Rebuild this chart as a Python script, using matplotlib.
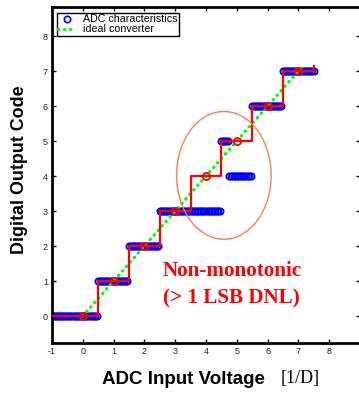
import matplotlib
matplotlib.use("Agg")
import matplotlib.pyplot as plt
import numpy as np
from matplotlib.patches import Ellipse

plt.rcParams['axes.unicode_minus'] = False

# measured ADC output codes: (start voltage, end voltage, code)
seg_start = [-1.0, 0.5, 1.5, 2.5, 4.5, 4.75, 5.5, 6.5]
seg_end = [0.45, 1.45, 2.45, 4.45, 4.7, 5.45, 6.45, 7.5]
seg_code = [0, 1, 2, 3, 5, 4, 6, 7]
sample_step = 0.05

# staircase (red) transitions and levels
step_x = [-1.0, 0.5, 1.5, 2.5, 3.5, 4.5, 5.5, 6.5, 7.5]
step_y = [0, 1, 2, 3, 4, 5, 6, 7, 7.15]

# ideal converter line
ideal_x = [0.0, 7.1]
ideal_y = [0.0, 7.1]

# code centres
centre_x = [0, 1, 2, 3, 4, 5, 6, 7]
centre_y = [0, 1, 2, 3, 4, 5, 6, 7]

xticks = [-1, 0, 1, 2, 3, 4, 5, 6, 7, 8]
yticks = [0, 1, 2, 3, 4, 5, 6, 7, 8]

adc_x, adc_y = [], []
for s, e, c in zip(seg_start, seg_end, seg_code):
    xs = np.arange(s, e + 1e-9, sample_step)
    adc_x.extend(xs)
    adc_y.extend([c] * len(xs))

W, H = 359, 395
fig = plt.figure(figsize=(W / 100, H / 100), dpi=100)
ax = fig.add_axes([52 / W, 1 - 343 / H, (360 - 52) / W, (343 - 7) / H])

ax.plot(adc_x, adc_y, 'o', mfc='none', mec='blue', ms=4.6, mew=1.2,
        label='ADC characteristics', zorder=2)
ax.plot(ideal_x, ideal_y, color='#00ff00', lw=2.4, ls=(0, (0.1, 1.7)),
        dash_capstyle='round', label='ideal converter', zorder=3)

# red staircase
sx, sy = [], []
for i in range(len(step_x) - 1):
    sx += [step_x[i], step_x[i + 1]]
    sy += [step_y[i], step_y[i]]
sx.append(step_x[-1])
sy.append(step_y[-1])
ax.plot(sx, sy, '-', color='red', lw=1.6, zorder=4)
ax.plot(centre_x, centre_y, 'o', mfc='none', mec='red', ms=5.2, mew=1.3, zorder=5)

ax.add_patch(Ellipse((4.58, 4.02), 3.07, 3.65, fill=False, ec='#ff7f50', lw=1.0, zorder=6))

ax.text(4.84, 1.29, 'Non-monotonic', color='red', fontsize=15.2,
        family='Liberation Serif', fontweight='bold', ha='center', va='center')
ax.text(4.84, 0.49, '(> 1 LSB DNL)', color='red', fontsize=15.2,
        family='Liberation Serif', fontweight='bold', ha='center', va='center')

ax.set_xlim(-1, 9)
ax.set_ylim(-0.77, 8.83)
ax.set_xticks(xticks)
ax.set_yticks(yticks)
ax.tick_params(direction='in', length=3, width=1, top=True, right=True,
               labelsize=6.5, pad=3, colors='black', labelcolor='#222222')
for lab in ax.get_xticklabels() + ax.get_yticklabels():
    lab.set_family('Liberation Sans')
for sp in ax.spines.values():
    sp.set_linewidth(2)

leg = ax.legend(loc='upper left', bbox_to_anchor=(57 / W, 1 - 13 / H),
                bbox_transform=fig.transFigure, borderaxespad=0, numpoints=1,
                fancybox=False, framealpha=1, edgecolor='black',
                prop={'family': 'Liberation Sans', 'size': 7.7},
                handlelength=1.7, handletextpad=0.6, borderpad=0.12,
                labelspacing=0.0)
leg.get_frame().set_linewidth(1.0)

fig.text(19.5 / W, 1 - 170 / H, 'Digital Output Code', rotation=90, ha='center',
         va='center', family='Liberation Sans', fontweight='bold', fontsize=12.9)
fig.text(102 / W, 1 - 379 / H, 'ADC Input Voltage', ha='left', va='center',
         family='Liberation Sans', fontweight='bold', fontsize=13.5)
fig.text(281 / W, 1 - 378 / H, '[1/D]', ha='left', va='center',
         family='Liberation Serif', fontsize=13)

fig.savefig('out.png', dpi=100)
